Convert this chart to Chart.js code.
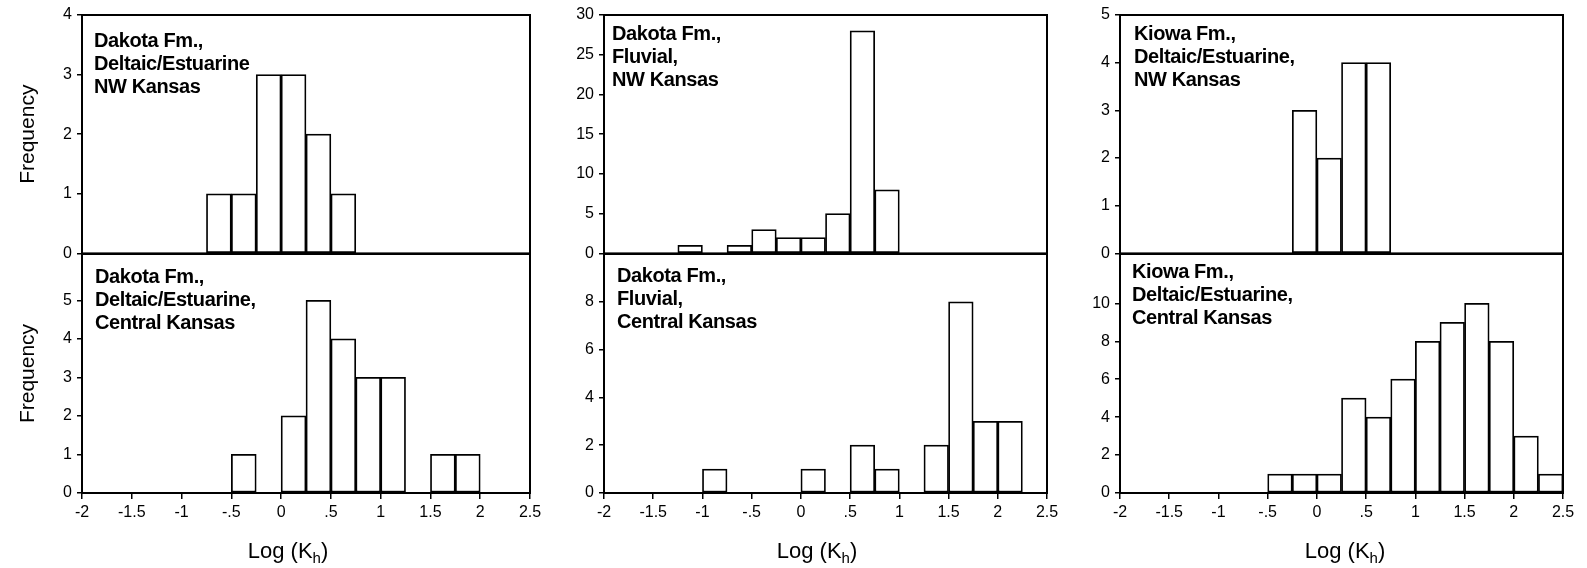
<!DOCTYPE html>
<html>
<head>
<meta charset="utf-8">
<title>Log(Kh) histograms</title>
<script src="https://cdn.jsdelivr.net/npm/chart.js@4.4.1/dist/chart.umd.min.js"></script>
<style>
  html, body { margin: 0; padding: 0; background: #fff; }
  body { width: 1587px; height: 568px; position: relative; overflow: hidden; }
  canvas { position: absolute; }
</style>
</head>
<body>
<script>
// bins of Log(Kh), left edges, 0.25 wide
const binLefts = [-2, -1.75, -1.5, -1.25, -1, -0.75, -0.5, -0.25, 0, 0.25, 0.5, 0.75, 1, 1.25, 1.5, 1.75, 2, 2.25];
const binWidth = 0.25;

// frequency per bin
const dakotaDeltaicNW      = [0, 0, 0, 0, 0, 1, 1, 3, 3, 2, 1, 0, 0, 0, 0, 0, 0, 0];
const dakotaDeltaicCentral = [0, 0, 0, 0, 0, 0, 1, 0, 2, 5, 4, 3, 3, 0, 1, 1, 0, 0];
const dakotaFluvialNW      = [0, 0, 0, 1, 0, 1, 3, 2, 2, 5, 28, 8, 0, 0, 0, 0, 0, 0];
const dakotaFluvialCentral = [0, 0, 0, 0, 1, 0, 0, 0, 1, 0, 2, 1, 0, 2, 8, 3, 3, 0];
const kiowaDeltaicNW       = [0, 0, 0, 0, 0, 0, 0, 3, 2, 4, 4, 0, 0, 0, 0, 0, 0, 0];
const kiowaDeltaicCentral  = [0, 0, 0, 0, 0, 0, 1, 1, 1, 5, 4, 6, 8, 9, 10, 8, 3, 1];

// x axis
const xMin = -2, xMax = 2.5;
const xTickValues = [-2, -1.5, -1, -0.5, 0, 0.5, 1, 1.5, 2, 2.5];
const xTickLabels = ['-2', '-1.5', '-1', '-.5', '0', '.5', '1', '1.5', '2', '2.5'];

// y axes (max = where the panel frame ends)
const yTicksDakotaDeltaicNW = [0, 1, 2, 3, 4];
const yTicksDakotaDeltaicCentral = [0, 1, 2, 3, 4, 5];
const yTicksDakotaFluvialNW = [0, 5, 10, 15, 20, 25, 30];
const yTicksDakotaFluvialCentral = [0, 2, 4, 6, 8];
const yTicksKiowaDeltaicNW = [0, 1, 2, 3, 4, 5];
const yTicksKiowaDeltaicCentral = [0, 2, 4, 6, 8, 10];
const yMaxes = [4, 6.2, 30, 10, 5, 12.6];

// panel captions
const captionDakotaDeltaicNW = ['Dakota Fm.,', 'Deltaic/Estuarine', 'NW Kansas'];
const captionDakotaDeltaicCentral = ['Dakota Fm.,', 'Deltaic/Estuarine,', 'Central Kansas'];
const captionDakotaFluvialNW = ['Dakota Fm.,', 'Fluvial,', 'NW Kansas'];
const captionDakotaFluvialCentral = ['Dakota Fm.,', 'Fluvial,', 'Central Kansas'];
const captionKiowaDeltaicNW = ['Kiowa Fm.,', 'Deltaic/Estuarine,', 'NW Kansas'];
const captionKiowaDeltaicCentral = ['Kiowa Fm.,', 'Deltaic/Estuarine,', 'Central Kansas'];

const yTitle = 'Frequency';

const FONT = "'Liberation Sans', Arial, Helvetica, sans-serif";
Chart.defaults.font.family = FONT;
Chart.defaults.color = '#000';

// layout of the 3 columns and 2 rows (page pixels)
const cols = [
    { plotL: 82, plotR: 530, axisW: 82, titleX: 288 },
    { plotL: 604, plotR: 1047, axisW: 56, titleX: 817 },
    { plotL: 1120, plotR: 1563, axisW: 56, titleX: 1345 }
];
const rows = [
    { top: 0, height: 268, padTop: 15, padBottom: 14 },
    { top: 234, height: 334, padTop: 20, padBottom: 0 }
];
const padRight = 16;
const xAxisHeight = 75;

const panels = [
    { col: 0, row: 0, counts: dakotaDeltaicNW, yTicks: yTicksDakotaDeltaicNW, yMax: yMaxes[0], caption: captionDakotaDeltaicNW, capX: 12, capY: 26 },
    { col: 0, row: 1, counts: dakotaDeltaicCentral, yTicks: yTicksDakotaDeltaicCentral, yMax: yMaxes[1], caption: captionDakotaDeltaicCentral, capX: 13, capY: 23 },
    { col: 1, row: 0, counts: dakotaFluvialNW, yTicks: yTicksDakotaFluvialNW, yMax: yMaxes[2], caption: captionDakotaFluvialNW, capX: 8, capY: 19 },
    { col: 1, row: 1, counts: dakotaFluvialCentral, yTicks: yTicksDakotaFluvialCentral, yMax: yMaxes[3], caption: captionDakotaFluvialCentral, capX: 13, capY: 22 },
    { col: 2, row: 0, counts: kiowaDeltaicNW, yTicks: yTicksKiowaDeltaicNW, yMax: yMaxes[4], caption: captionKiowaDeltaicNW, capX: 14, capY: 19 },
    { col: 2, row: 1, counts: kiowaDeltaicCentral, yTicks: yTicksKiowaDeltaicCentral, yMax: yMaxes[5], caption: captionKiowaDeltaicCentral, capX: 12, capY: 18 }
];

// box around the plot area
const framePlugin = {
    id: 'frame',
    afterDatasetsDraw(chart) {
        const a = chart.chartArea;
        const ctx = chart.ctx;
        ctx.save();
        ctx.strokeStyle = '#000';
        ctx.lineWidth = 2;
        ctx.strokeRect(a.left, a.top, a.right - a.left, a.bottom - a.top);
        ctx.restore();
    }
};

// bold caption in the upper left corner
const captionPlugin = {
    id: 'caption',
    afterDraw(chart, args, opts) {
        const a = chart.chartArea;
        const ctx = chart.ctx;
        ctx.save();
        ctx.font = 'bold 20px ' + FONT;
        ctx.letterSpacing = '-0.4px';
        ctx.fillStyle = '#000';
        ctx.textAlign = 'left';
        ctx.textBaseline = 'middle';
        opts.lines.forEach((line, i) => {
            ctx.fillText(line, a.left + opts.dx, a.top + opts.dy + i * 23);
        });
        ctx.restore();
    }
};

// "Log (Kh)" with subscript h under the bottom panels
const xTitlePlugin = {
    id: 'xTitle',
    afterDraw(chart, args, opts) {
        if (!opts.show) return;
        const ctx = chart.ctx;
        ctx.save();
        ctx.fillStyle = '#000';
        ctx.textBaseline = 'alphabetic';
        ctx.textAlign = 'left';
        const big = '22px ' + FONT, small = '15px ' + FONT;
        ctx.font = big;
        const w1 = ctx.measureText('Log (K').width;
        const w3 = ctx.measureText(')').width;
        ctx.font = small;
        const w2 = ctx.measureText('h').width;
        let x = opts.x - (w1 + w2 + w3) / 2;
        const y = opts.y;
        ctx.font = big;
        ctx.fillText('Log (K', x, y);
        x += w1;
        ctx.font = small;
        ctx.fillText('h', x, y + 5);
        x += w2;
        ctx.font = big;
        ctx.fillText(')', x, y);
        ctx.restore();
    }
};

function makePanel(p) {
    const c = cols[p.col];
    const r = rows[p.row];
    const isBottom = p.row === 1;
    const left = c.plotL - c.axisW;
    const width = c.plotR + padRight - left;

    const canvas = document.createElement('canvas');
    canvas.width = width;
    canvas.height = r.height;
    canvas.style.left = left + 'px';
    canvas.style.top = r.top + 'px';
    canvas.style.width = width + 'px';
    canvas.style.height = r.height + 'px';
    document.body.appendChild(canvas);

    const data = binLefts.map((b, i) => ({ x: b + binWidth / 2, y: p.counts[i] }));

    return new Chart(canvas, {
        type: 'bar',
        data: {
            datasets: [{
                data: data,
                backgroundColor: '#fff',
                borderColor: '#000',
                borderWidth: 1.75,
                borderSkipped: false,
                barPercentage: 1,
                categoryPercentage: 1
            }]
        },
        options: {
            responsive: false,
            animation: false,
            devicePixelRatio: 1,
            events: [],
            layout: { padding: { left: 0, right: padRight, top: r.padTop, bottom: r.padBottom } },
            plugins: {
                legend: { display: false },
                tooltip: { enabled: false },
                caption: { lines: p.caption, dx: p.capX, dy: p.capY },
                xTitle: { show: isBottom, x: c.titleX - left, y: 558 - r.top }
            },
            scales: {
                x: {
                    type: 'linear',
                    min: xMin,
                    max: xMax,
                    offset: false,
                    display: isBottom,
                    afterBuildTicks: s => { s.ticks = xTickValues.map(v => ({ value: v })); },
                    afterFit: s => { if (isBottom) s.height = xAxisHeight; },
                    grid: { offset: false, drawOnChartArea: false, drawTicks: true, tickLength: 6, color: '#000', lineWidth: 1.5 },
                    border: { display: false },
                    ticks: {
                        callback: (v, i) => xTickLabels[i],
                        font: { size: 16 },
                        color: '#000',
                        padding: 4,
                        maxRotation: 0,
                        autoSkip: false
                    }
                },
                y: {
                    type: 'linear',
                    min: 0,
                    max: p.yMax,
                    afterBuildTicks: s => { s.ticks = p.yTicks.map(v => ({ value: v })); },
                    afterFit: s => { s.width = c.axisW; },
                    grid: { drawOnChartArea: false, drawTicks: true, tickLength: 5, color: '#000', lineWidth: 1.5 },
                    border: { display: false },
                    ticks: { font: { size: 16 }, color: '#000', padding: 5, autoSkip: false },
                    title: {
                        display: p.col === 0,
                        text: yTitle,
                        font: { size: 21 },
                        color: '#000',
                        padding: { top: 16, bottom: 0 }
                    }
                }
            }
        },
        plugins: [framePlugin, captionPlugin, xTitlePlugin]
    });
}

panels.forEach(makePanel);
</script>
</body>
</html>
